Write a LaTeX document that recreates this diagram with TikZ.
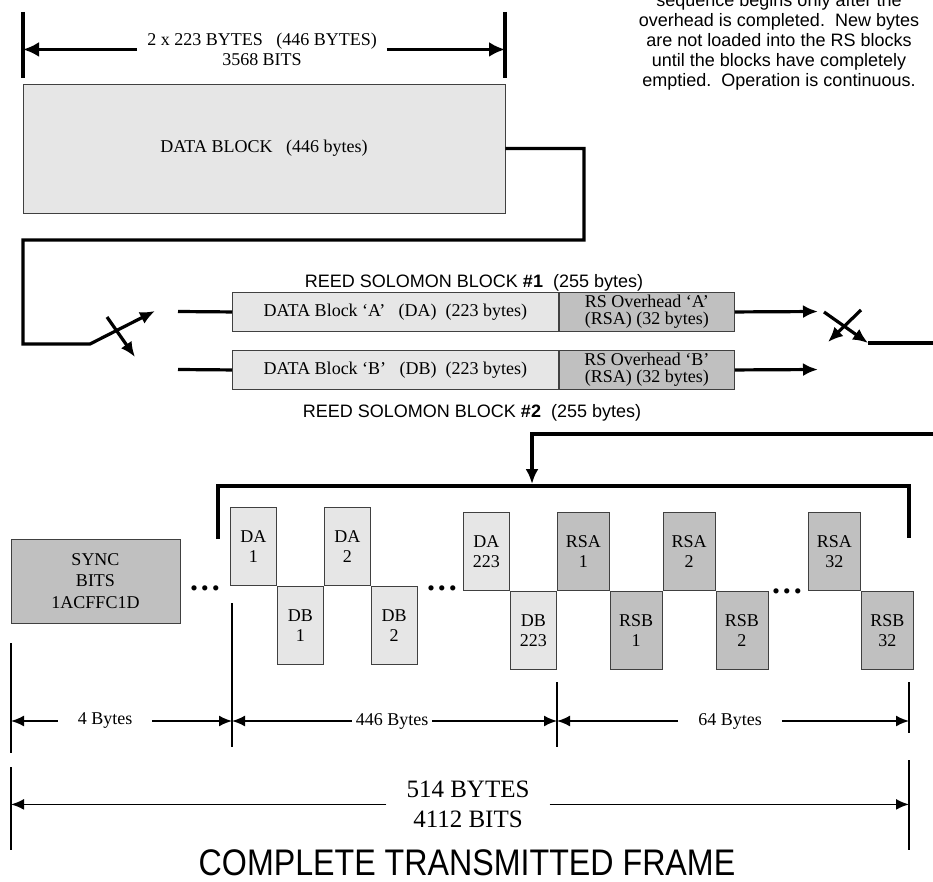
\documentclass[tikz,border=0pt]{standalone}
\usepackage{fontspec}
\setmainfont{Liberation Serif}
\setsansfont{Liberation Sans}
\newfontfamily\framefont[FakeStretch=0.87]{Liberation Sans}
\usepackage{tikz}
\usetikzlibrary{arrows.meta,positioning,calc}
\definecolor{blockLight}{HTML}{E6E6E6}
\definecolor{blockDark}{HTML}{C0C0C0}
\definecolor{blockEdge}{HTML}{404040}

\begin{document}
\begin{tikzpicture}[x=1pt, y=-1pt,
  txt/.style={font=\fontsize{18}{20}\selectfont, align=center},
  sanstxt/.style={font=\sffamily\fontsize{18}{20}\selectfont, align=center, inner sep=0pt},
  block/.style={draw=blockEdge, line width=0.9pt, txt, inner sep=1pt},
  cell/.style={block, minimum height=78pt, inner sep=0pt},
  dacell/.style={cell, fill=blockLight, minimum width=46pt},
  rscell/.style={cell, fill=blockDark, minimum width=52pt},
  wire/.style={line width=3.2pt},
  wirearrow/.style={wire, -{Latex[length=15pt,width=13pt]}},
  dimbar/.style={line width=1.6pt},
  dimarrow/.style={line width=1.8pt, -{Latex[length=13pt,width=11pt]}},
  dimlabel/.style={txt, inner xsep=20pt, inner ysep=0pt},
  gapdots/.style={font=\bfseries\fontsize{32}{32}\selectfont, inner sep=0pt}
]
  \useasboundingbox (0,0) rectangle (933,882);
  \clip (0,0) rectangle (933,882);

  \node[sanstxt, anchor=south] (note) at (779,90) {sequence begins only after the\\overhead is completed.\ \ New bytes\\are not loaded into the RS blocks\\until the blocks have completely\\emptied.\ \ Operation is continuous.};

  \draw[wire] (23,12) -- (23,78);
  \draw[wire] (505,12) -- (505,78);
  \coordinate (barL) at (23,50);
  \coordinate (barR) at (505,50);
  \node[txt, inner xsep=10pt, inner ysep=0pt, anchor=south] (datadim) at (262,66) {2 x 223 BYTES\ \ \ (446 BYTES)\\3568 BITS};
  \draw[wire, -{Latex[length=16pt,width=15pt]}] (datadim.west) -- (datadim.west -| barL);
  \draw[wire, -{Latex[length=16pt,width=15pt]}] (datadim.east) -- (datadim.east -| barR);

  \node[block, fill=blockLight, minimum width=482pt, minimum height=129pt] (data) at (264,148.5) {DATA BLOCK\ \ \ (446 bytes)};

  \coordinate (swInTip) at (155,311);
  \coordinate (swInB) at (107,317);
  \coordinate (swInBTip) at (135,357);
  \draw[wirearrow] (data.east) -| (584,240) -| (23,344) -- (90,344) -- (swInTip);
  \draw[wirearrow] (swInB) -- (swInBTip);

  \node[sanstxt, anchor=south] (rsTitleA) at (474,291) {REED SOLOMON BLOCK \textbf{\#1}\ \ (255 bytes)};
  \node[block, fill=blockLight, minimum width=326pt, minimum height=39pt, anchor=north west] (daA) at (232,292) {DATA Block ‘A’\ \ \ (DA)\ \ (223 bytes)};
  \node[block, fill=blockDark, minimum width=175pt, minimum height=39pt, anchor=west, font=\fontsize{18}{17}\selectfont] (rsA) at (daA.east) {RS Overhead ‘A’\\(RSA) (32 bytes)};
  \node[block, fill=blockLight, minimum width=326pt, minimum height=39pt, anchor=north west] (daB) at (232,350) {DATA Block ‘B’\ \ \ (DB)\ \ (223 bytes)};
  \node[block, fill=blockDark, minimum width=175pt, minimum height=39pt, anchor=west, font=\fontsize{18}{17}\selectfont] (rsB) at (daB.east) {RS Overhead ‘B’\\(RSA) (32 bytes)};
  \node[sanstxt, anchor=north] (rsTitleB) at (472,404) {REED SOLOMON BLOCK \textbf{\#2}\ \ (255 bytes)};

  \coordinate (inA) at (178,311.5);
  \coordinate (inB) at (178,369.5);
  \draw[wire] (inA) -- (daA.west);
  \draw[wire] (inB) -- (daB.west);
  \coordinate (outA) at (818,311.5);
  \coordinate (outB) at (818,369.5);
  \draw[wirearrow] (rsA.east) -- (outA);
  \draw[wirearrow] (rsB.east) -- (outB);

  \coordinate (swOutA) at (824,312);
  \coordinate (swOutTip) at (868,343);
  \coordinate (swOutB) at (861,310);
  \coordinate (swOutBTip) at (828,342);
  \draw[wirearrow] (swOutA) -- (swOutTip);
  \draw[wire] (swOutTip) -- (933,343);
  \draw[wirearrow] (swOutB) -- (swOutBTip);

  \draw[wirearrow] (933,434) -| (532,484);
  \draw[wire] (218,539) |- (909,486) -- (909,538);

  \node[block, fill=blockDark, minimum width=169pt, minimum height=84pt, font=\fontsize{18}{21.5}\selectfont] (sync) at (95.5,581) {SYNC\\BITS\\1ACFFC1D};

  \node[dacell, anchor=north west] (da1) at (230,507) {DA\\1};
  \node[dacell, anchor=north west] (db1) at (da1.south east) {DB\\1};
  \node[dacell, anchor=south west] (da2) at (db1.north east) {DA\\2};
  \node[dacell, anchor=north west] (db2) at (da2.south east) {DB\\2};
  \node[dacell, anchor=north west] (da223) at (463,512) {DA\\223};
  \node[dacell, anchor=north west] (db223) at (da223.south east) {DB\\223};
  \node[rscell, anchor=south west] (rsa1) at (db223.north east) {RSA\\1};
  \node[rscell, anchor=north west] (rsb1) at (rsa1.south east) {RSB\\1};
  \node[rscell, anchor=south west] (rsa2) at (rsb1.north east) {RSA\\2};
  \node[rscell, anchor=north west] (rsb2) at (rsa2.south east) {RSB\\2};
  \node[rscell, anchor=north west] (rsa32) at (808,512) {RSA\\32};
  \node[rscell, anchor=north west] (rsb32) at (rsa32.south east) {RSB\\32};

  \node[gapdots] (gapA) at (205,588) {.\kern3pt.\kern3pt.};
  \node[gapdots] (gapB) at (442,588) {.\kern3pt.\kern3pt.};
  \node[gapdots] (gapC) at (787,591) {.\kern3pt.\kern3pt.};

  \draw[dimbar] (11,643) -- (11,753);
  \draw[dimbar] (232,603) -- (232,747);
  \draw[dimbar] (557,682) -- (557,747);
  \draw[dimbar] (909,682) -- (909,733);
  \coordinate (m0) at (11,721);
  \coordinate (m1) at (232,721);
  \coordinate (m2) at (557,721);
  \coordinate (m3) at (909,721);
  \node[dimlabel] (syncLen) at (105,721) {4 Bytes};
  \node[dimlabel, inner xsep=4pt] (dataLen) at (392,721) {446 Bytes};
  \node[dimlabel] (rsLen) at (730,721) {64 Bytes};
  \draw[dimarrow] (syncLen.west) -- (m0);
  \draw[dimarrow] (syncLen.east) -- (m1);
  \draw[dimarrow] (dataLen.west) -- (m1);
  \draw[dimarrow] (dataLen.east) -- (m2);
  \draw[dimarrow] (rsLen.west) -- (m2);
  \draw[dimarrow] (rsLen.east) -- (m3);

  \draw[dimbar] (11,767) -- (11,850);
  \draw[dimbar] (909,760) -- (909,850);
  \node[txt, font=\fontsize{25}{30}\selectfont, inner xsep=20pt, inner ysep=0pt, anchor=south] (frameLen) at (468,828) {514 BYTES\\4112 BITS};
  \draw[dimarrow] (frameLen.west) -- (frameLen.west -| m0);
  \draw[dimarrow] (frameLen.east) -- (frameLen.east -| m3);

  \node[font=\framefont\fontsize{37}{40}\selectfont, inner sep=0pt] (frameTitle) at (467,863) {COMPLETE TRANSMITTED FRAME};
\end{tikzpicture}
\end{document}
